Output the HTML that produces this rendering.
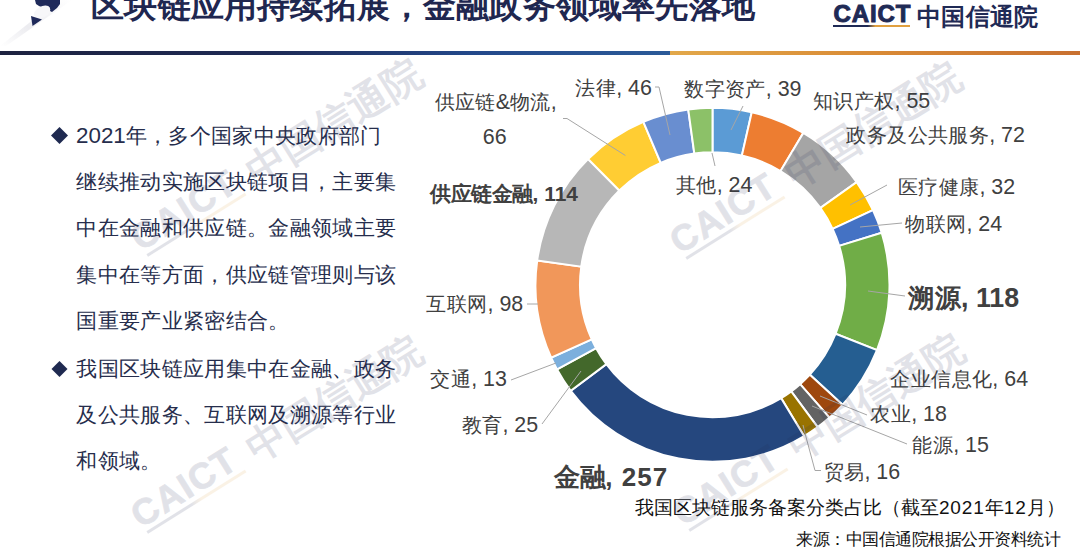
<!DOCTYPE html>
<html><head><meta charset="utf-8"><title>区块链应用持续拓展</title><style>
html,body{margin:0;padding:0;background:#fff;}
body{width:1080px;height:548px;position:relative;overflow:hidden;font-family:"Liberation Sans",sans-serif;}
.a{position:absolute;white-space:nowrap;line-height:1;}
.z,.zb,.zt,.zl,.pct,.pc,.pd,.pe,.pl,.pr,.pk{display:inline-block;width:1em;}
.z{transform-origin:0.100em 0.160em;transform:translate(-0.070em,-0.025em) scale(1.709,1.338);-webkit-text-stroke:0.024em currentColor;}
.zb{transform-origin:0.100em 0.160em;transform:translate(-0.070em,-0.060em) scale(1.709,1.294);-webkit-text-stroke:0.055em currentColor;}
.pct{transform-origin:0.100em 0.160em;transform:translate(0.330em,0.640em) scale(0.164,0.206);-webkit-text-stroke:0.450em currentColor;}
.zt{transform-origin:0.100em 0.160em;transform:translate(-0.070em,-0.145em) scale(1.709,1.426);-webkit-text-stroke:0.065em currentColor;}
.zl{transform-origin:0.100em 0.160em;transform:translate(-0.060em,-0.130em) scale(1.673,1.309);-webkit-text-stroke:0.060em currentColor;}
.pc{transform-origin:0.100em 0.160em;transform:translate(0.285em,0.600em) scale(0.145,0.265);-webkit-text-stroke:0.450em currentColor;}
.pd{transform-origin:0.100em 0.160em;transform:translate(-0.080em,0.600em) scale(0.418,0.324);-webkit-text-stroke:0.030em currentColor;}
.pe{transform-origin:0.100em 0.160em;transform:translate(0.020em,0.600em) scale(0.218,0.235);-webkit-text-stroke:0.250em currentColor;}
.pl{transform-origin:0.100em 0.160em;transform:translate(0.440em,-0.060em) scale(0.364,1.353);-webkit-text-stroke:0.020em currentColor;}
.pr{transform-origin:0.100em 0.160em;transform:translate(0.420em,-0.060em) scale(0.364,1.353);-webkit-text-stroke:0.020em currentColor;}
.pk{transform-origin:0.100em 0.160em;transform:translate(0.320em,0.220em) scale(0.255,0.676);-webkit-text-stroke:0.020em currentColor;}
.cjk .z,.cjk .zb,.cjk .zt,.cjk .zl,.cjk .pct,.cjk .pc,.cjk .pd,.cjk .pe,.cjk .pl,.cjk .pr,.cjk .pk{transform:none;-webkit-text-stroke:0;}
.lab{color:#404040;}
.n{font-size:1.05em;}
.nc{letter-spacing:0.9px;}
.nb{font-size:1.02em;}
.nb2{font-size:1.02em;letter-spacing:0.04em;}
.bt{color:#262d4c;font-size:21.33px;}
.logo{position:absolute;white-space:nowrap;line-height:1;color:#1f2a55;width:210px;height:30px;}
.lc{position:absolute;left:0.5px;top:0;font-weight:bold;font-size:24px;letter-spacing:0.9px;-webkit-text-stroke:1px currentColor;}
.lu{position:absolute;left:0;top:23.2px;width:77px;height:2px;background:linear-gradient(90deg,#1f2a55 0,#1f2a55 45%,#e0a040 55%,#e0a040 100%);}
.lt{position:absolute;left:84px;top:3.5px;font-size:24.3px;font-weight:bold;}
.wm{position:absolute;width:0;height:0;transform-origin:0 0;transform:rotate(-32deg);opacity:0.13;color:#1f2a55;white-space:nowrap;line-height:1;}
.wu{position:absolute;left:0;top:-1.5px;width:116px;height:3px;background:linear-gradient(90deg,#1f2a55 0,#1f2a55 45%,#e0a040 55%,#e0a040 100%);}
.wc{position:absolute;left:-3.5px;top:-36.1px;font-size:36.3px;font-weight:bold;letter-spacing:1.3px;-webkit-text-stroke:0.8px currentColor;}
.wt{position:absolute;left:130px;top:-32.8px;font-size:39.6px;font-weight:bold;}
</style></head><body>
<div style="position:absolute;left:0;top:51px;width:670px;height:4px;background:linear-gradient(90deg,#1e2340 0,#1e2a55 40%,#23488a 70%,#2b5a98 100%);"></div>
<div style="position:absolute;left:670px;top:51px;width:410px;height:4px;background:linear-gradient(90deg,#e2a84a 0,#d98a35 50%,#c87030 100%);"></div>
<svg style="position:absolute;left:0;top:0" width="90" height="50" viewBox="0 0 90 50">
<defs><linearGradient id="sw" x1="0" y1="1" x2="1" y2="0"><stop offset="0" stop-color="#fff"/><stop offset="0.4" stop-color="#ececf0"/><stop offset="1" stop-color="#fff"/></linearGradient></defs>
<polygon points="0,46 6,46 72,0 58,0" fill="url(#sw)"/>
<polygon points="35,0 60,0 60,4 57,8 52,12 46,9 39,6 36,4" fill="#1f2a5a"/>
<ellipse cx="42" cy="12" rx="9" ry="5.5" transform="rotate(-30 42 12)" fill="#f7f7f9"/>
<polygon points="31,16 42,19.5 32.5,26" fill="#1f2a5a"/>
</svg>
<div class="a" style="left:91.2px;top:-11.2px;font-size:33.2px;font-weight:bold;color:#1f2750;"><span class="zt">区</span><span class="zt">块</span><span class="zt">链</span><span class="zt">应</span><span class="zt">用</span><span class="zt">持</span><span class="zt">续</span><span class="zt">拓</span><span class="zt">展</span><span class="pct">，</span><span class="zt">金</span><span class="zt">融</span><span class="zt">政</span><span class="zt">务</span><span class="zt">领</span><span class="zt">域</span><span class="zt">率</span><span class="zt">先</span><span class="zt">落</span><span class="zt">地</span></div>
<div class="logo" style="left:833px;top:1.5px;"><span class="lc">CAICT</span><span class="lu"></span><span class="lt"><span class="zl">中</span><span class="zl">国</span><span class="zl">信</span><span class="zl">通</span><span class="zl">院</span></span></div>
<svg style="position:absolute;left:0;top:0" width="80" height="400"><polygon points="59.5,127 68,135.5 59.5,144 51,135.5" fill="#1f2a50"/><polygon points="59.5,361 67.5,369 59.5,377 51.5,369" fill="#1f2a50"/></svg>
<div class="a bt" style="left:76.0px;top:124.6px;"><span class="n">2021</span><span class="z">年</span><span class="pc">，</span><span class="z">多</span><span class="z">个</span><span class="z">国</span><span class="z">家</span><span class="z">中</span><span class="z">央</span><span class="z">政</span><span class="z">府</span><span class="z">部</span><span class="z">门</span></div>
<div class="a bt" style="left:76.4px;top:171.8px;"><span class="z">继</span><span class="z">续</span><span class="z">推</span><span class="z">动</span><span class="z">实</span><span class="z">施</span><span class="z">区</span><span class="z">块</span><span class="z">链</span><span class="z">项</span><span class="z">目</span><span class="pc">，</span><span class="z">主</span><span class="z">要</span><span class="z">集</span></div>
<div class="a bt" style="left:76.4px;top:218.4px;"><span class="z">中</span><span class="z">在</span><span class="z">金</span><span class="z">融</span><span class="z">和</span><span class="z">供</span><span class="z">应</span><span class="z">链</span><span class="pd">。</span><span class="z">金</span><span class="z">融</span><span class="z">领</span><span class="z">域</span><span class="z">主</span><span class="z">要</span></div>
<div class="a bt" style="left:76.4px;top:265.0px;"><span class="z">集</span><span class="z">中</span><span class="z">在</span><span class="z">等</span><span class="z">方</span><span class="z">面</span><span class="pc">，</span><span class="z">供</span><span class="z">应</span><span class="z">链</span><span class="z">管</span><span class="z">理</span><span class="z">则</span><span class="z">与</span><span class="z">该</span></div>
<div class="a bt" style="left:76.4px;top:311.2px;"><span class="z">国</span><span class="z">重</span><span class="z">要</span><span class="z">产</span><span class="z">业</span><span class="z">紧</span><span class="z">密</span><span class="z">结</span><span class="z">合</span><span class="pd">。</span></div>
<div class="a bt" style="left:76.4px;top:358.6px;"><span class="z">我</span><span class="z">国</span><span class="z">区</span><span class="z">块</span><span class="z">链</span><span class="z">应</span><span class="z">用</span><span class="z">集</span><span class="z">中</span><span class="z">在</span><span class="z">金</span><span class="z">融</span><span class="pe">、</span><span class="z">政</span><span class="z">务</span></div>
<div class="a bt" style="left:76.4px;top:405.2px;"><span class="z">及</span><span class="z">公</span><span class="z">共</span><span class="z">服</span><span class="z">务</span><span class="pe">、</span><span class="z">互</span><span class="z">联</span><span class="z">网</span><span class="z">及</span><span class="z">溯</span><span class="z">源</span><span class="z">等</span><span class="z">行</span><span class="z">业</span></div>
<div class="a bt" style="left:76.4px;top:451.2px;"><span class="z">和</span><span class="z">领</span><span class="z">域</span><span class="pd">。</span></div>
<svg style="position:absolute;left:0;top:0" width="1080" height="548"><g stroke="#fff" stroke-width="2"><path d="M712.50 107.80A177.0 177.0 0 0 1 751.74 112.21L741.88 155.60A132.5 132.5 0 0 0 712.50 152.30Z" fill="#5B9BD5"/><path d="M751.74 112.21A177.0 177.0 0 0 1 803.33 132.88L780.50 171.08A132.5 132.5 0 0 0 741.88 155.60Z" fill="#ED7D31"/><path d="M803.33 132.88A177.0 177.0 0 0 1 856.64 182.08L820.40 207.90A132.5 132.5 0 0 0 780.50 171.08Z" fill="#A5A5A5"/><path d="M856.64 182.08A177.0 177.0 0 0 1 872.96 210.10L832.62 228.88A132.5 132.5 0 0 0 820.40 207.90Z" fill="#FFC000"/><path d="M872.96 210.10A177.0 177.0 0 0 1 881.69 232.81L839.16 245.88A132.5 132.5 0 0 0 832.62 228.88Z" fill="#4472C4"/><path d="M881.69 232.81A177.0 177.0 0 0 1 876.98 350.18L835.63 333.75A132.5 132.5 0 0 0 839.16 245.88Z" fill="#70AD47"/><path d="M876.98 350.18A177.0 177.0 0 0 1 842.58 404.84L809.88 374.66A132.5 132.5 0 0 0 835.63 333.75Z" fill="#255E91"/><path d="M842.58 404.84A177.0 177.0 0 0 1 829.52 417.60L800.10 384.21A132.5 132.5 0 0 0 809.88 374.66Z" fill="#9E480E"/><path d="M829.52 417.60A177.0 177.0 0 0 1 817.68 427.16L791.24 391.37A132.5 132.5 0 0 0 800.10 384.21Z" fill="#636363"/><path d="M817.68 427.16A177.0 177.0 0 0 1 804.20 436.19L781.15 398.13A132.5 132.5 0 0 0 791.24 391.37Z" fill="#997300"/><path d="M804.20 436.19A177.0 177.0 0 0 1 570.75 390.80L606.39 364.15A132.5 132.5 0 0 0 781.15 398.13Z" fill="#25477e"/><path d="M570.75 390.80A177.0 177.0 0 0 1 557.06 369.47L596.14 348.18A132.5 132.5 0 0 0 606.39 364.15Z" fill="#43682B"/><path d="M557.06 369.47A177.0 177.0 0 0 1 551.19 357.66L591.75 339.34A132.5 132.5 0 0 0 596.14 348.18Z" fill="#7CAFDD"/><path d="M551.19 357.66A177.0 177.0 0 0 1 537.17 260.52L581.25 266.63A132.5 132.5 0 0 0 591.75 339.34Z" fill="#F1975A"/><path d="M537.17 260.52A177.0 177.0 0 0 1 588.06 158.93L619.35 190.57A132.5 132.5 0 0 0 581.25 266.63Z" fill="#B7B7B7"/><path d="M588.06 158.93A177.0 177.0 0 0 1 643.36 121.86L660.74 162.83A132.5 132.5 0 0 0 619.35 190.57Z" fill="#FFCD33"/><path d="M643.36 121.86A177.0 177.0 0 0 1 688.22 109.47L694.33 153.55A132.5 132.5 0 0 0 660.74 162.83Z" fill="#698ED0"/><path d="M688.22 109.47A177.0 177.0 0 0 1 712.50 107.80L712.50 152.30A132.5 132.5 0 0 0 694.33 153.55Z" fill="#8CC168"/></g><g fill="none" stroke="#a6a6a6" stroke-width="1"><polyline points="655,87 659,87 670,135"/><polyline points="563,118.5 567,118.5 625.4,155.5"/><polyline points="743,106 731,130"/><polyline points="712,153 715,166"/><polyline points="887,185 850,205"/><polyline points="902,223 860,227"/><polyline points="905,296 868,291"/><polyline points="867,415 820,396"/><polyline points="907,444 812,406"/><polyline points="821,470.5 815,470.5 806,437 803,425"/><polyline points="527,304 538,304"/><polyline points="511,380 556,363"/><polyline points="542,424 581,371"/></g></svg>
<div class="a lab" style="left:434.5px;top:92.2px;font-size:20.4px;"><span class="z">供</span><span class="z">应</span><span class="z">链</span><span class="n">&amp;</span><span class="z">物</span><span class="z">流</span><span class="n">,</span></div>
<div class="a lab" style="left:482.8px;top:127.4px;font-size:20.4px;"><span class="n">66</span></div>
<div class="a lab" style="left:575.4px;top:78.4px;font-size:20.4px;"><span class="z">法</span><span class="z">律</span><span class="n">, 46</span></div>
<div class="a lab" style="left:684.2px;top:79.3px;font-size:20.4px;"><span class="z">数</span><span class="z">字</span><span class="z">资</span><span class="z">产</span><span class="n">, 39</span></div>
<div class="a lab" style="left:813.0px;top:91.3px;font-size:20.4px;"><span class="z">知</span><span class="z">识</span><span class="z">产</span><span class="z">权</span><span class="n">, 55</span></div>
<div class="a lab" style="left:846.4px;top:125.4px;font-size:20.4px;"><span class="z">政</span><span class="z">务</span><span class="z">及</span><span class="z">公</span><span class="z">共</span><span class="z">服</span><span class="z">务</span><span class="n">, 72</span></div>
<div class="a lab" style="left:675.9px;top:175.1px;font-size:20.4px;"><span class="z">其</span><span class="z">他</span><span class="n">, 24</span></div>
<div class="a lab" style="left:897.9px;top:177.4px;font-size:20.4px;"><span class="z">医</span><span class="z">疗</span><span class="z">健</span><span class="z">康</span><span class="n">, 32</span></div>
<div class="a lab" style="left:905.3px;top:214.0px;font-size:20.4px;"><span class="z">物</span><span class="z">联</span><span class="z">网</span><span class="n">, 24</span></div>
<div class="a lab" style="left:430.1px;top:184.0px;font-size:20.5px;font-weight:bold;"><span class="zb">供</span><span class="zb">应</span><span class="zb">链</span><span class="zb">金</span><span class="zb">融</span><span class="nb">, 114</span></div>
<div class="a lab" style="left:908.4px;top:284.6px;font-size:26.3px;font-weight:bold;"><span class="zb">溯</span><span class="zb">源</span><span class="nb">, 118</span></div>
<div class="a lab" style="left:426.4px;top:294.4px;font-size:20.4px;"><span class="z">互</span><span class="z">联</span><span class="z">网</span><span class="n">, 98</span></div>
<div class="a lab" style="left:890.4px;top:368.5px;font-size:20.4px;"><span class="z">企</span><span class="z">业</span><span class="z">信</span><span class="z">息</span><span class="z">化</span><span class="n">, 64</span></div>
<div class="a lab" style="left:430.4px;top:369.2px;font-size:20.4px;"><span class="z">交</span><span class="z">通</span><span class="n">, 13</span></div>
<div class="a lab" style="left:870.4px;top:404.1px;font-size:20.4px;"><span class="z">农</span><span class="z">业</span><span class="n">, 18</span></div>
<div class="a lab" style="left:461.6px;top:415.0px;font-size:20.4px;"><span class="z">教</span><span class="z">育</span><span class="n">, 25</span></div>
<div class="a lab" style="left:912.4px;top:435.2px;font-size:20.4px;"><span class="z">能</span><span class="z">源</span><span class="n">, 15</span></div>
<div class="a lab" style="left:823.7px;top:462.1px;font-size:20.4px;"><span class="z">贸</span><span class="z">易</span><span class="n">, 16</span></div>
<div class="a lab" style="left:554.2px;top:463.8px;font-size:25.5px;font-weight:bold;"><span class="zb">金</span><span class="zb">融</span><span class="nb2">, 257</span></div>
<div class="a" style="left:634.9px;top:498.4px;font-size:19px;color:#111;"><span class="z">我</span><span class="z">国</span><span class="z">区</span><span class="z">块</span><span class="z">链</span><span class="z">服</span><span class="z">务</span><span class="z">备</span><span class="z">案</span><span class="z">分</span><span class="z">类</span><span class="z">占</span><span class="z">比</span><span class="pl">（</span><span class="z">截</span><span class="z">至</span><span class="nc">2021</span><span class="z">年</span><span class="nc">12</span><span class="z">月</span><span class="pr">）</span></div>
<div class="a" style="left:796.2px;top:530.7px;font-size:16.5px;color:#111;"><span class="z">来</span><span class="z">源</span><span class="pk">：</span><span class="z">中</span><span class="z">国</span><span class="z">信</span><span class="z">通</span><span class="z">院</span><span class="z">根</span><span class="z">据</span><span class="z">公</span><span class="z">开</span><span class="z">资</span><span class="z">料</span><span class="z">统</span><span class="z">计</span></div>
<div class="wm" style="left:147px;top:532px;"><span class="wu"></span><span class="wc">CAICT</span><span class="wt"><span class="zl">中</span><span class="zl">国</span><span class="zl">信</span><span class="zl">通</span><span class="zl">院</span></span></div>
<div class="wm" style="left:147px;top:255px;"><span class="wu"></span><span class="wc">CAICT</span><span class="wt"><span class="zl">中</span><span class="zl">国</span><span class="zl">信</span><span class="zl">通</span><span class="zl">院</span></span></div>
<div class="wm" style="left:686px;top:258px;"><span class="wu"></span><span class="wc">CAICT</span><span class="wt"><span class="zl">中</span><span class="zl">国</span><span class="zl">信</span><span class="zl">通</span><span class="zl">院</span></span></div>
<div class="wm" style="left:689px;top:530px;"><span class="wu"></span><span class="wc">CAICT</span><span class="wt"><span class="zl">中</span><span class="zl">国</span><span class="zl">信</span><span class="zl">通</span><span class="zl">院</span></span></div>
<script>(function(){var s=document.createElement("span");s.style.cssText="position:absolute;visibility:hidden;font-size:100px;line-height:1;white-space:nowrap";s.textContent="中中中中";document.body.appendChild(s);if(s.getBoundingClientRect().width>350){document.body.className+=" cjk";}document.body.removeChild(s);})();</script>
</body></html>
